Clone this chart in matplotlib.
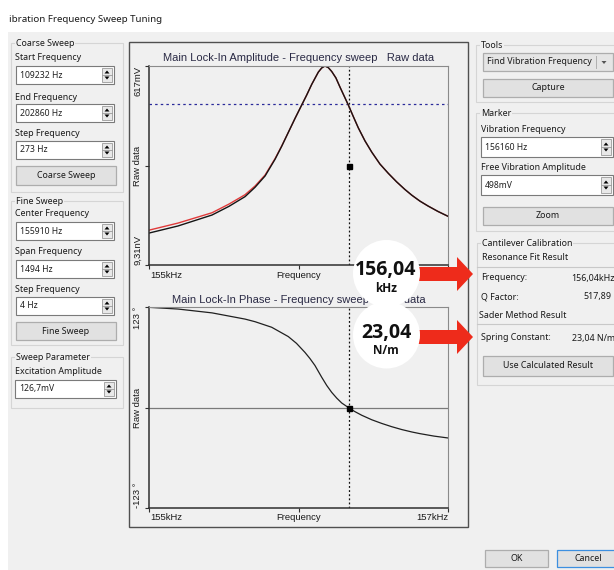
import matplotlib
matplotlib.use("Agg")
import matplotlib.pyplot as plt
from matplotlib.patches import Rectangle, Circle, Polygon

# ---------------- data ----------------
# Fine sweep range (center 155910 Hz, span 1494 Hz)
f_start, f_stop = 155163, 156657

amp_freq_hz = [155163, 155308, 155478, 155563, 155643, 155693, 155743, 155793,
               155826, 155859, 155893, 155926, 155951, 155976, 156009, 156026,
               156042, 156059, 156076, 156097, 156117, 156138, 156159, 156184,
               156209, 156242, 156276, 156317, 156359, 156400, 156442, 156477,
               156517, 156557, 156607, 156657]
amp_raw_mv = [99, 121, 155, 182, 212, 241, 276, 328,
              368, 411, 455, 496, 527, 560, 598, 611,
              617, 612, 600, 580, 552, 524, 496, 460,
              425, 385, 350, 313, 284, 258, 234, 216,
              198, 183, 166, 151]
amp_fit_mv = [108, 130, 162, 189, 218, 245, 279, 330,
              369, 411, 455, 496, 527, 560, 598, 611,
              617, 612, 600, 580, 552, 524, 496, 460,
              425, 385, 350, 313, 284, 258, 234, 216,
              198, 183, 166, 151]

phase_freq_hz = [155163, 155308, 155478, 155643, 155693, 155776, 155859, 155900,
                 155942, 155967, 155992, 156026, 156051, 156076, 156101, 156126,
                 156159, 156190, 156226, 156276, 156326, 156376, 156426, 156477,
                 156517, 156587, 156657]
phase_deg = [122.6, 120.5, 115.8, 108.2, 105.0, 98.2, 86.8, 78.5,
             67.5, 60.0, 51.5, 37.0, 27.0, 18.5, 11.5, 5.5,
             0.0, -4.8, -9.5, -15.0, -19.5, -23.5, -27.0, -30.0,
             -32.0, -35.0, -37.3]

amp_max_mv = 617
phase_max_deg = 123
marker_freq_hz = 156160
free_amp_mv = 498

fit_freq_text = "156,04"
spring_text = "23,04"

# ---------------- figure ----------------
W, H = 614, 570
fig = plt.figure(figsize=(W / 100, H / 100), dpi=100)
fig.patch.set_facecolor("white")

GUI = ["Noto Sans", "DejaVu Sans"]
CHART = ["Liberation Sans", "DejaVu Sans"]
BG = "#f0f0f0"

bg = fig.add_axes([0, 0, 1, 1], zorder=0)
bg.set_xlim(0, W)
bg.set_ylim(H, 0)
bg.axis("off")


def rect(ax, x0, y0, x1, y1, fc="none", ec="none", lw=0.8, z=1):
    ax.add_patch(Rectangle((x0, y0), x1 - x0, y1 - y0, facecolor=fc,
                           edgecolor=ec, linewidth=lw, zorder=z))


def label(x, y, s, size=6.4, ha="left", color="#1a1a1a", mask=False, **kw):
    extra = {}
    if mask:
        extra["bbox"] = dict(facecolor=BG, edgecolor="none", pad=0.6)
    bg.text(x, y, s, fontsize=size, family=GUI, ha=ha, va="center",
            color=color, zorder=5, **extra, **kw)


def group(x0, y0, x1, y1, title):
    rect(bg, x0, y0, x1, y1, ec="#d5d5d5", lw=0.8, z=2)
    label(x0 + 5, y0, title, mask=True)


def spinbox(x0, y0, x1, y1, value):
    rect(bg, x0, y0, x1, y1, fc="white", ec="#7a7a7a", lw=0.8, z=3)
    label(x0 + 4, (y0 + y1) / 2, value, size=6.2, color="#202020")
    sx0, sx1 = x1 - 12, x1 - 2
    rect(bg, sx0, y0 + 2, sx1, y1 - 2, fc="#e8e8e8", ec="#9a9a9a", lw=0.6, z=4)
    ym = (y0 + y1) / 2
    bg.plot([sx0, sx1], [ym, ym], color="#9a9a9a", lw=0.6, zorder=5)
    cx = (sx0 + sx1) / 2
    bg.add_patch(Polygon([(cx - 2.5, ym - 1.5), (cx + 2.5, ym - 1.5), (cx, ym - 4.5)],
                         closed=True, fc="black", ec="none", zorder=6))
    bg.add_patch(Polygon([(cx - 2.5, ym + 1.5), (cx + 2.5, ym + 1.5), (cx, ym + 4.5)],
                         closed=True, fc="black", ec="none", zorder=6))


def button(x0, y0, x1, y1, text, ec="#adadad"):
    rect(bg, x0, y0, x1, y1, fc="#e1e1e1", ec=ec, lw=0.9, z=3)
    label((x0 + x1) / 2, (y0 + y1) / 2, text, ha="center")


# window body and title
rect(bg, 8, 32, W + 2, H + 2, fc=BG, z=0.5)
label(9, 19, "ibration Frequency Sweep Tuning", size=7.0)

# ---- left panel ----
group(11, 43, 123, 192, "Coarse Sweep")
label(15, 58, "Start Frequency")
spinbox(16, 66, 114, 84, "109232 Hz")
label(15, 97, "End Frequency")
spinbox(16, 104, 114, 122, "202860 Hz")
label(15, 133, "Step Frequency")
spinbox(16, 141, 114, 159, "273 Hz")
button(16, 166, 116, 185, "Coarse Sweep")

group(11, 201, 123, 345, "Fine Sweep")
label(15, 214, "Center Frequency")
spinbox(16, 222, 114, 240, "155910 Hz")
label(15, 252, "Span Frequency")
spinbox(16, 260, 114, 278, "1494 Hz")
label(15, 289, "Step Frequency")
spinbox(16, 297, 114, 315, "4 Hz")
button(16, 322, 116, 340, "Fine Sweep")

group(11, 357, 123, 408, "Sweep Parameter")
label(15, 372, "Excitation Amplitude")
spinbox(15, 380, 116, 398, "126,7mV")

# ---- center chart panel frame ----
rect(bg, 128.5, 41.5, 468, 527, ec="#505050", lw=1.0, z=2)

# ---- right panel ----
group(476, 45, W + 5, 102, "Tools")
rect(bg, 483, 53, 613, 71, fc="#e5e5e5", ec="#adadad", lw=0.9, z=3)
label(487, 62, "Find Vibration Frequency")
bg.plot([596, 596], [56, 68], color="#b0b0b0", lw=0.7, zorder=5)
bg.add_patch(Polygon([(601.5, 61), (606.5, 61), (604, 64)], closed=True,
                     fc="#555555", ec="none", zorder=6))
button(483, 79, 613, 97, "Capture")

group(476, 113, W + 5, 231, "Marker")
label(481, 130, "Vibration Frequency")
spinbox(481, 137, 613, 157, "156160 Hz")
label(481, 168, "Free Vibration Amplitude")
spinbox(481, 175, 613, 195, "498mV")
button(483, 207, 613, 225, "Zoom")

group(477, 243, W + 5, 385, "Cantilever Calibration")
label(482, 258, "Resonance Fit Result")
bg.plot([477, W], [267, 267], color="#c8c8c8", lw=0.8, zorder=3)
label(481, 278, "Frequency:")
label(615, 278, "156,04kHz", ha="right")
label(481, 297, "Q Factor:")
label(611, 297, "517,89", ha="right")
label(479, 316, "Sader Method Result")
bg.plot([477, W], [324, 324], color="#c8c8c8", lw=0.8, zorder=3)
label(481, 338, "Spring Constant:")
label(615, 338, "23,04 N/m", ha="right")
button(483, 356, 613, 376, "Use Calculated Result")

button(485, 550, 548, 567, "OK")
button(557, 550, W + 6, 567, "Cancel", ec="#3c8fe0")

# ---------------- charts ----------------
def px_axes(left, top, right, bottom):
    return fig.add_axes([left / W, (H - bottom) / H, (right - left) / W,
                         (bottom - top) / H], zorder=2)


def style_axes(ax, ymin, ymax):
    ax.set_facecolor(BG)
    ax.set_xlim(f_start, f_stop)
    ax.set_ylim(ymin, ymax)
    for side in ("left", "bottom"):
        ax.spines[side].set_color("#303030")
        ax.spines[side].set_linewidth(1.1)
    for side in ("top", "right"):
        ax.spines[side].set_color("#8a8a8a")
        ax.spines[side].set_linewidth(0.8)
    ax.set_xticks([f_start, (f_start + f_stop) / 2, f_stop])
    ax.set_yticks([ymin, (ymin + ymax) / 2, ymax])
    ax.tick_params(direction="out", length=3, width=0.8, color="#303030",
                   labelleft=False, labelbottom=False)


def chart_text(x, y, s, size=6.8, color="#1a1a1a", va="center", **kw):
    bg.text(x, y, s, fontsize=size, family=CHART, color=color,
            va=va, zorder=5, **kw)


# amplitude
ax1 = px_axes(149, 66, 448, 265)
style_axes(ax1, 0, amp_max_mv)
ax1.axhline(free_amp_mv, color="#2a2a9a", lw=0.9, ls=(0, (2, 2.5)))
ax1.axvline(marker_freq_hz, color="#111111", lw=0.9, ls=(0, (1.5, 1.8)))
ax1.plot(amp_freq_hz, amp_fit_mv, color="#e03a3a", lw=1.0)
ax1.plot(amp_freq_hz, amp_raw_mv, color="#151515", lw=1.0)
ax1.plot([marker_freq_hz], [amp_max_mv / 2], marker="s", ms=3.6, color="black")

chart_text(298.5, 58, "Main Lock-In Amplitude - Frequency sweep   Raw data",
           size=8.0, ha="center", color="#2a2a45")
chart_text(138, 66, "617mV", rotation=90, ha="center", va="top")
chart_text(138, 165.5, "Raw data", rotation=90, ha="center")
chart_text(138, 265, "9,31nV", rotation=90, ha="center", va="bottom")
chart_text(150, 275, "155kHz")
chart_text(298.5, 275, "Frequency", ha="center")
chart_text(448, 275, "157kHz", ha="right")

# phase
ax2 = px_axes(149, 307, 448, 508)
style_axes(ax2, -phase_max_deg, phase_max_deg)
ax2.axhline(0, color="#7a7a7a", lw=0.9)
ax2.axvline(marker_freq_hz, color="#111111", lw=0.9, ls=(0, (1.5, 1.8)))
ax2.plot(phase_freq_hz, phase_deg, color="#202020", lw=0.9)
ax2.plot([marker_freq_hz], [0], marker="s", ms=3.6, color="black")

chart_text(298.5, 300, "Main Lock-In Phase - Frequency sweep   Raw data",
           size=8.0, ha="center", color="#2a2a45")
chart_text(138, 307, "123 \u00b0", rotation=90, ha="center", va="top")
chart_text(138, 407.5, "Raw data", rotation=90, ha="center")
chart_text(138, 508, "-123 \u00b0", rotation=90, ha="center", va="bottom")
chart_text(150, 517, "155kHz")
chart_text(298.5, 517, "Frequency", ha="center")
chart_text(448, 517, "157kHz", ha="right")

# ---------------- callouts ----------------
fg = fig.add_axes([0, 0, 1, 1], zorder=10)
fg.set_xlim(0, W)
fg.set_ylim(H, 0)
fg.axis("off")
fg.patch.set_alpha(0)

RED = "#ee2b1b"


def arrow(y, x0=418, xb=457, xt=473, half_body=7, half_head=17):
    fg.add_patch(Polygon([(x0, y - half_body), (xb, y - half_body), (xb, y - half_head),
                          (xt, y), (xb, y + half_head), (xb, y + half_body),
                          (x0, y + half_body)], closed=True, fc=RED, ec="none",
                         zorder=1))


arrow(274)
arrow(337)
fg.add_patch(Circle((386.5, 273.5), 33.5, fc="white", ec="none", zorder=2))
fg.add_patch(Circle((386.5, 335), 33.5, fc="white", ec="none", zorder=2))
BOLD = ["Open Sans", "DejaVu Sans"]
fg.text(386, 270, fit_freq_text, fontsize=14, weight="bold", family=BOLD,
        ha="center", va="center", color="#111111", zorder=3)
fg.text(386, 288.5, "kHz", fontsize=8.5, weight="bold", family=BOLD,
        ha="center", va="center", color="#111111", zorder=3)
fg.text(386, 333, spring_text, fontsize=14, weight="bold", family=BOLD,
        ha="center", va="center", color="#111111", zorder=3)
fg.text(386, 351, "N/m", fontsize=8.5, weight="bold", family=BOLD,
        ha="center", va="center", color="#111111", zorder=3)

fig.savefig("out.png", dpi=100, facecolor=fig.get_facecolor())
